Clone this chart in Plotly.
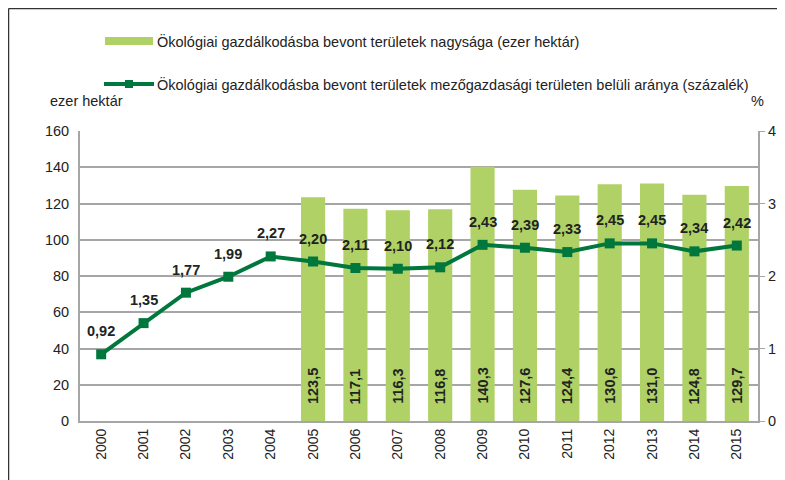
import plotly.graph_objects as go

years = [str(y) for y in range(2000, 2016)]
area = [None, None, None, None, None, 123.5, 117.1, 116.3, 116.8, 140.3, 127.6, 124.4, 130.6, 131.0, 124.8, 129.7]
share = [0.92, 1.35, 1.77, 1.99, 2.27, 2.20, 2.11, 2.10, 2.12, 2.43, 2.39, 2.33, 2.45, 2.45, 2.34, 2.42]
name_bar = "Ökológiai gazdálkodásba bevont területek nagysága (ezer hektár)"
name_line = "Ökológiai gazdálkodásba bevont területek mezőgazdasági területen belüli aránya (százalék)"

BAR = "#AFD166"
LINE = "#00773C"
GRID = "#A6A6A6"
FONT = "Liberation Sans, Arial, sans-serif"
TXT = "#222222"
FS = 14.5

bar_text = [("" if v is None else f"{v:.1f}".replace(".", ",")) for v in area]
line_text = [f"{v:.2f}".replace(".", ",") for v in share]

fig = go.Figure()
fig.add_trace(go.Bar(
    x=years, y=area, name=name_bar, marker=dict(color=BAR, line=dict(width=0)),
    width=0.57, yaxis="y"))
fig.add_trace(go.Scatter(
    x=years, y=share, name=name_line, mode="lines+markers", yaxis="y2",
    line=dict(color=LINE, width=4), marker=dict(symbol="square", size=10, color=LINE),
    cliponaxis=False))

# page body adds an 8px offset; work in screenshot coordinates
OFF = 8
W, H = 785 - OFF, 480 - OFF
L, R, T, B = 80 - OFF, 785 - 758, 131 - OFF, 480 - 421
pw, ph = W - L - R, H - T - B

def px(x):
    return (x - OFF - L) / pw

def py(y):
    return (H - B - (y - OFF)) / ph

shapes = [
    dict(type="line", xref="paper", yref="paper", x0=px(8.5), x1=px(8.5), y0=py(480), y1=py(8.5),
         line=dict(color="#333333", width=1.5)),
    dict(type="line", xref="paper", yref="paper", x0=px(8.5), x1=px(785), y0=py(8.5), y1=py(8.5),
         line=dict(color="#333333", width=1.5)),
    dict(type="rect", xref="paper", yref="paper", x0=px(105), x1=px(153), y0=py(45), y1=py(37),
         fillcolor=BAR, line=dict(width=0)),
    dict(type="line", xref="paper", yref="paper", x0=px(104), x1=px(154), y0=py(84), y1=py(84),
         line=dict(color=LINE, width=4)),
    dict(type="rect", xref="paper", yref="paper", x0=px(125), x1=px(133), y0=py(88), y1=py(80),
         fillcolor=LINE, line=dict(width=0)),
]
annotations = [
    dict(text=name_bar, xref="paper", yref="paper", x=px(155), y=py(41), xanchor="left", yanchor="middle",
         showarrow=False, font=dict(family=FONT, size=FS, color=TXT)),
    dict(text=name_line, xref="paper", yref="paper", x=px(155), y=py(84), xanchor="left", yanchor="middle",
         showarrow=False, font=dict(family=FONT, size=FS, color=TXT)),
    dict(text="ezer hektár", xref="paper", yref="paper", x=px(48), y=py(101), xanchor="left", yanchor="middle",
         showarrow=False, font=dict(family=FONT, size=FS, color=TXT)),
    dict(text="%", xref="paper", yref="paper", x=px(766), y=py(101), xanchor="right", yanchor="middle",
         showarrow=False, font=dict(family=FONT, size=FS, color=TXT)),
]
for i, (v, t) in enumerate(zip(share, line_text)):
    annotations.append(dict(text=t, x=i, y=v, xref="x", yref="y2", showarrow=False,
                            yshift=23, xanchor="center", yanchor="middle",
                            font=dict(family=FONT, size=FS, color=TXT, weight="bold")))
for i, (v, t) in enumerate(zip(area, bar_text)):
    if v is None:
        continue
    annotations.append(dict(text=t, x=i, y=0, xref="x", yref="y", showarrow=False,
                            textangle=-90, yshift=15, xanchor="center", yanchor="bottom",
                            font=dict(family=FONT, size=FS, color=TXT, weight="bold")))

fig.update_layout(
    width=W, height=H, margin=dict(l=L, r=R, t=T, b=B, autoexpand=False),
    paper_bgcolor="white", plot_bgcolor="white", showlegend=False,
    font=dict(family=FONT, size=FS, color=TXT),
    bargap=0.43,
    xaxis=dict(type="category", tickangle=-90, tickfont=dict(size=14), showgrid=False,
               showline=True, linecolor=GRID, linewidth=2, ticks="", range=[-0.5, 15.5],
               automargin=False),
    yaxis=dict(range=[0, 160], dtick=20, showgrid=True, gridcolor=GRID, gridwidth=1.5,
               showline=True, linecolor=GRID, linewidth=2, ticks="", zeroline=False,
               tickfont=dict(size=FS), automargin=False, ticklabelstandoff=6),
    yaxis2=dict(range=[0, 4], dtick=1, overlaying="y", side="right", showgrid=False,
                showline=True, linecolor=GRID, linewidth=2, ticks="outside", ticklen=5,
                tickcolor=GRID, zeroline=False, tickfont=dict(size=FS), automargin=False),
    shapes=shapes, annotations=annotations,
)
fig.write_html("out.html")
